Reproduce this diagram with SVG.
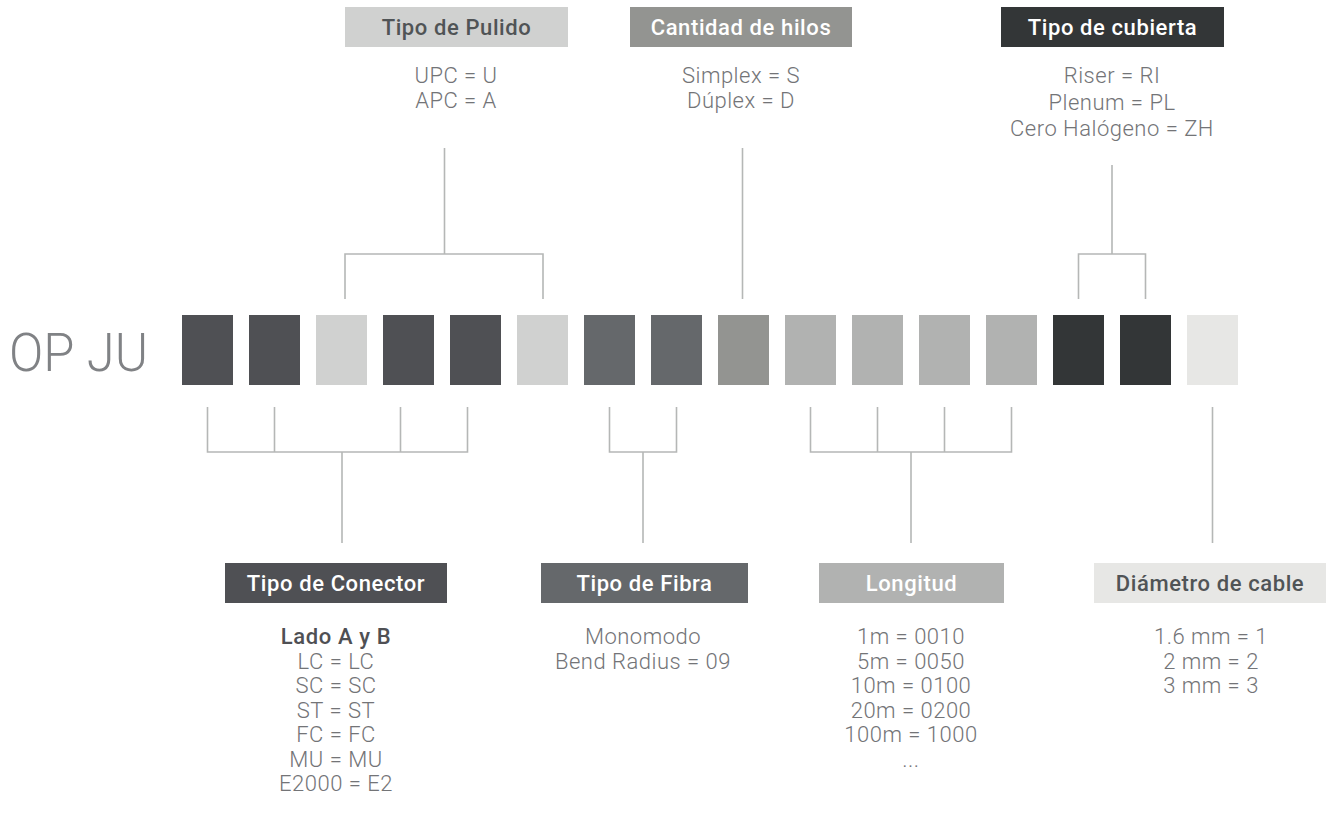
<svg xmlns="http://www.w3.org/2000/svg" width="1331" height="813" viewBox="0 0 1331 813">
<style>
.t{font-family:Roboto,"Liberation Sans",sans-serif;font-size:22px;font-weight:500;letter-spacing:0.6px;text-anchor:middle}
.b{font-family:Roboto,"Liberation Sans",sans-serif;font-size:22px;font-weight:300;letter-spacing:0.5px;fill:#737477;text-anchor:middle}
.w{fill:#ffffff}
.d{fill:#505456}
.ln{fill:none;stroke:#b5b7b6;stroke-width:1.6}
.c1{fill:#4f5054}.c2{fill:#d0d1d0}.c3{fill:#65686b}.c4{fill:#939491}.c5{fill:#b1b2b1}.c6{fill:#333637}.c7{fill:#e7e7e5}
</style>
<rect width="1331" height="813" fill="#ffffff"/>
<text id="code" x="9" y="371" font-family="Roboto,'Liberation Sans',sans-serif" font-size="54" font-weight="300" fill="#808285" textLength="139" lengthAdjust="spacingAndGlyphs">OP JU</text>
<g id="squares">
<rect class="c1" x="182" y="315" width="51" height="70"/>
<rect class="c1" x="249" y="315" width="51" height="70"/>
<rect class="c2" x="316" y="315" width="51" height="70"/>
<rect class="c1" x="383" y="315" width="51" height="70"/>
<rect class="c1" x="450" y="315" width="51" height="70"/>
<rect class="c2" x="517" y="315" width="51" height="70"/>
<rect class="c3" x="584" y="315" width="51" height="70"/>
<rect class="c3" x="651" y="315" width="51" height="70"/>
<rect class="c4" x="718" y="315" width="51" height="70"/>
<rect class="c5" x="785" y="315" width="51" height="70"/>
<rect class="c5" x="852" y="315" width="51" height="70"/>
<rect class="c5" x="919" y="315" width="51" height="70"/>
<rect class="c5" x="986" y="315" width="51" height="70"/>
<rect class="c6" x="1053" y="315" width="51" height="70"/>
<rect class="c6" x="1120" y="315" width="51" height="70"/>
<rect class="c7" x="1187" y="315" width="51" height="70"/>
</g>
<g id="connectors">
<path class="ln" d="M444.5 148V254M345 299V254H543V299"/>
<path class="ln" d="M742.5 148V299"/>
<path class="ln" d="M1112 165V254M1078.5 299V254H1145.5V299"/>
<path class="ln" d="M207.5 407V452H467.5V407M274.5 407V452M400.5 407V452M342 452V543"/>
<path class="ln" d="M609.5 407V452H676.5V407M643 452V543"/>
<path class="ln" d="M810.5 407V452H1011.5V407M877.5 407V452M944.5 407V452M911 452V543"/>
<path class="ln" d="M1212.5 407V543"/>
</g>
<g id="pulido">
<rect class="c2" x="345" y="7" width="223" height="40"/>
<text class="t d" x="456.5" y="35">Tipo de Pulido</text>
<text class="b" x="456" y="83">UPC = U</text>
<text class="b" x="456" y="108">APC = A</text>
</g>
<g id="hilos">
<rect class="c4" x="630" y="7" width="222" height="40"/>
<text class="t w" x="741" y="35">Cantidad de hilos</text>
<text class="b" x="741" y="83">Simplex = S</text>
<text class="b" x="741" y="108">Dúplex = D</text>
</g>
<g id="cubierta">
<rect class="c6" x="1001" y="7" width="223" height="40"/>
<text class="t w" x="1112.5" y="35">Tipo de cubierta</text>
<text class="b" x="1112" y="83">Riser = RI</text>
<text class="b" x="1112" y="109.5">Plenum = PL</text>
<text class="b" x="1112" y="136">Cero Halógeno = ZH</text>
</g>
<g id="conector">
<rect class="c1" x="225" y="563" width="222" height="40"/>
<text class="t w" x="336" y="591">Tipo de Conector</text>
<text class="t" x="336" y="644" fill="#4f5054">Lado A y B</text>
<text class="b" x="336" y="668.5">LC = LC</text>
<text class="b" x="336" y="693">SC = SC</text>
<text class="b" x="336" y="717.5">ST = ST</text>
<text class="b" x="336" y="742">FC = FC</text>
<text class="b" x="336" y="766.5">MU = MU</text>
<text class="b" x="336" y="791">E2000 = E2</text>
</g>
<g id="fibra">
<rect class="c3" x="541" y="563" width="207" height="40"/>
<text class="t w" x="644.5" y="591">Tipo de Fibra</text>
<text class="b" x="643" y="644">Monomodo</text>
<text class="b" x="643" y="668.5">Bend Radius = 09</text>
</g>
<g id="longitud">
<rect class="c5" x="819" y="563" width="185" height="40"/>
<text class="t w" x="911.5" y="591">Longitud</text>
<text class="b" x="911" y="644">1m = 0010</text>
<text class="b" x="911" y="668.5">5m = 0050</text>
<text class="b" x="911" y="693">10m = 0100</text>
<text class="b" x="911" y="717.5">20m = 0200</text>
<text class="b" x="911" y="742">100m = 1000</text>
<text class="b" x="911" y="766.5">...</text>
</g>
<g id="diametro">
<rect class="c7" x="1094" y="563" width="232" height="40"/>
<text class="t d" x="1210" y="591">Diámetro de cable</text>
<text class="b" x="1211" y="644">1.6 mm = 1</text>
<text class="b" x="1211" y="668.5">2 mm = 2</text>
<text class="b" x="1211" y="693">3 mm = 3</text>
</g>
</svg>
